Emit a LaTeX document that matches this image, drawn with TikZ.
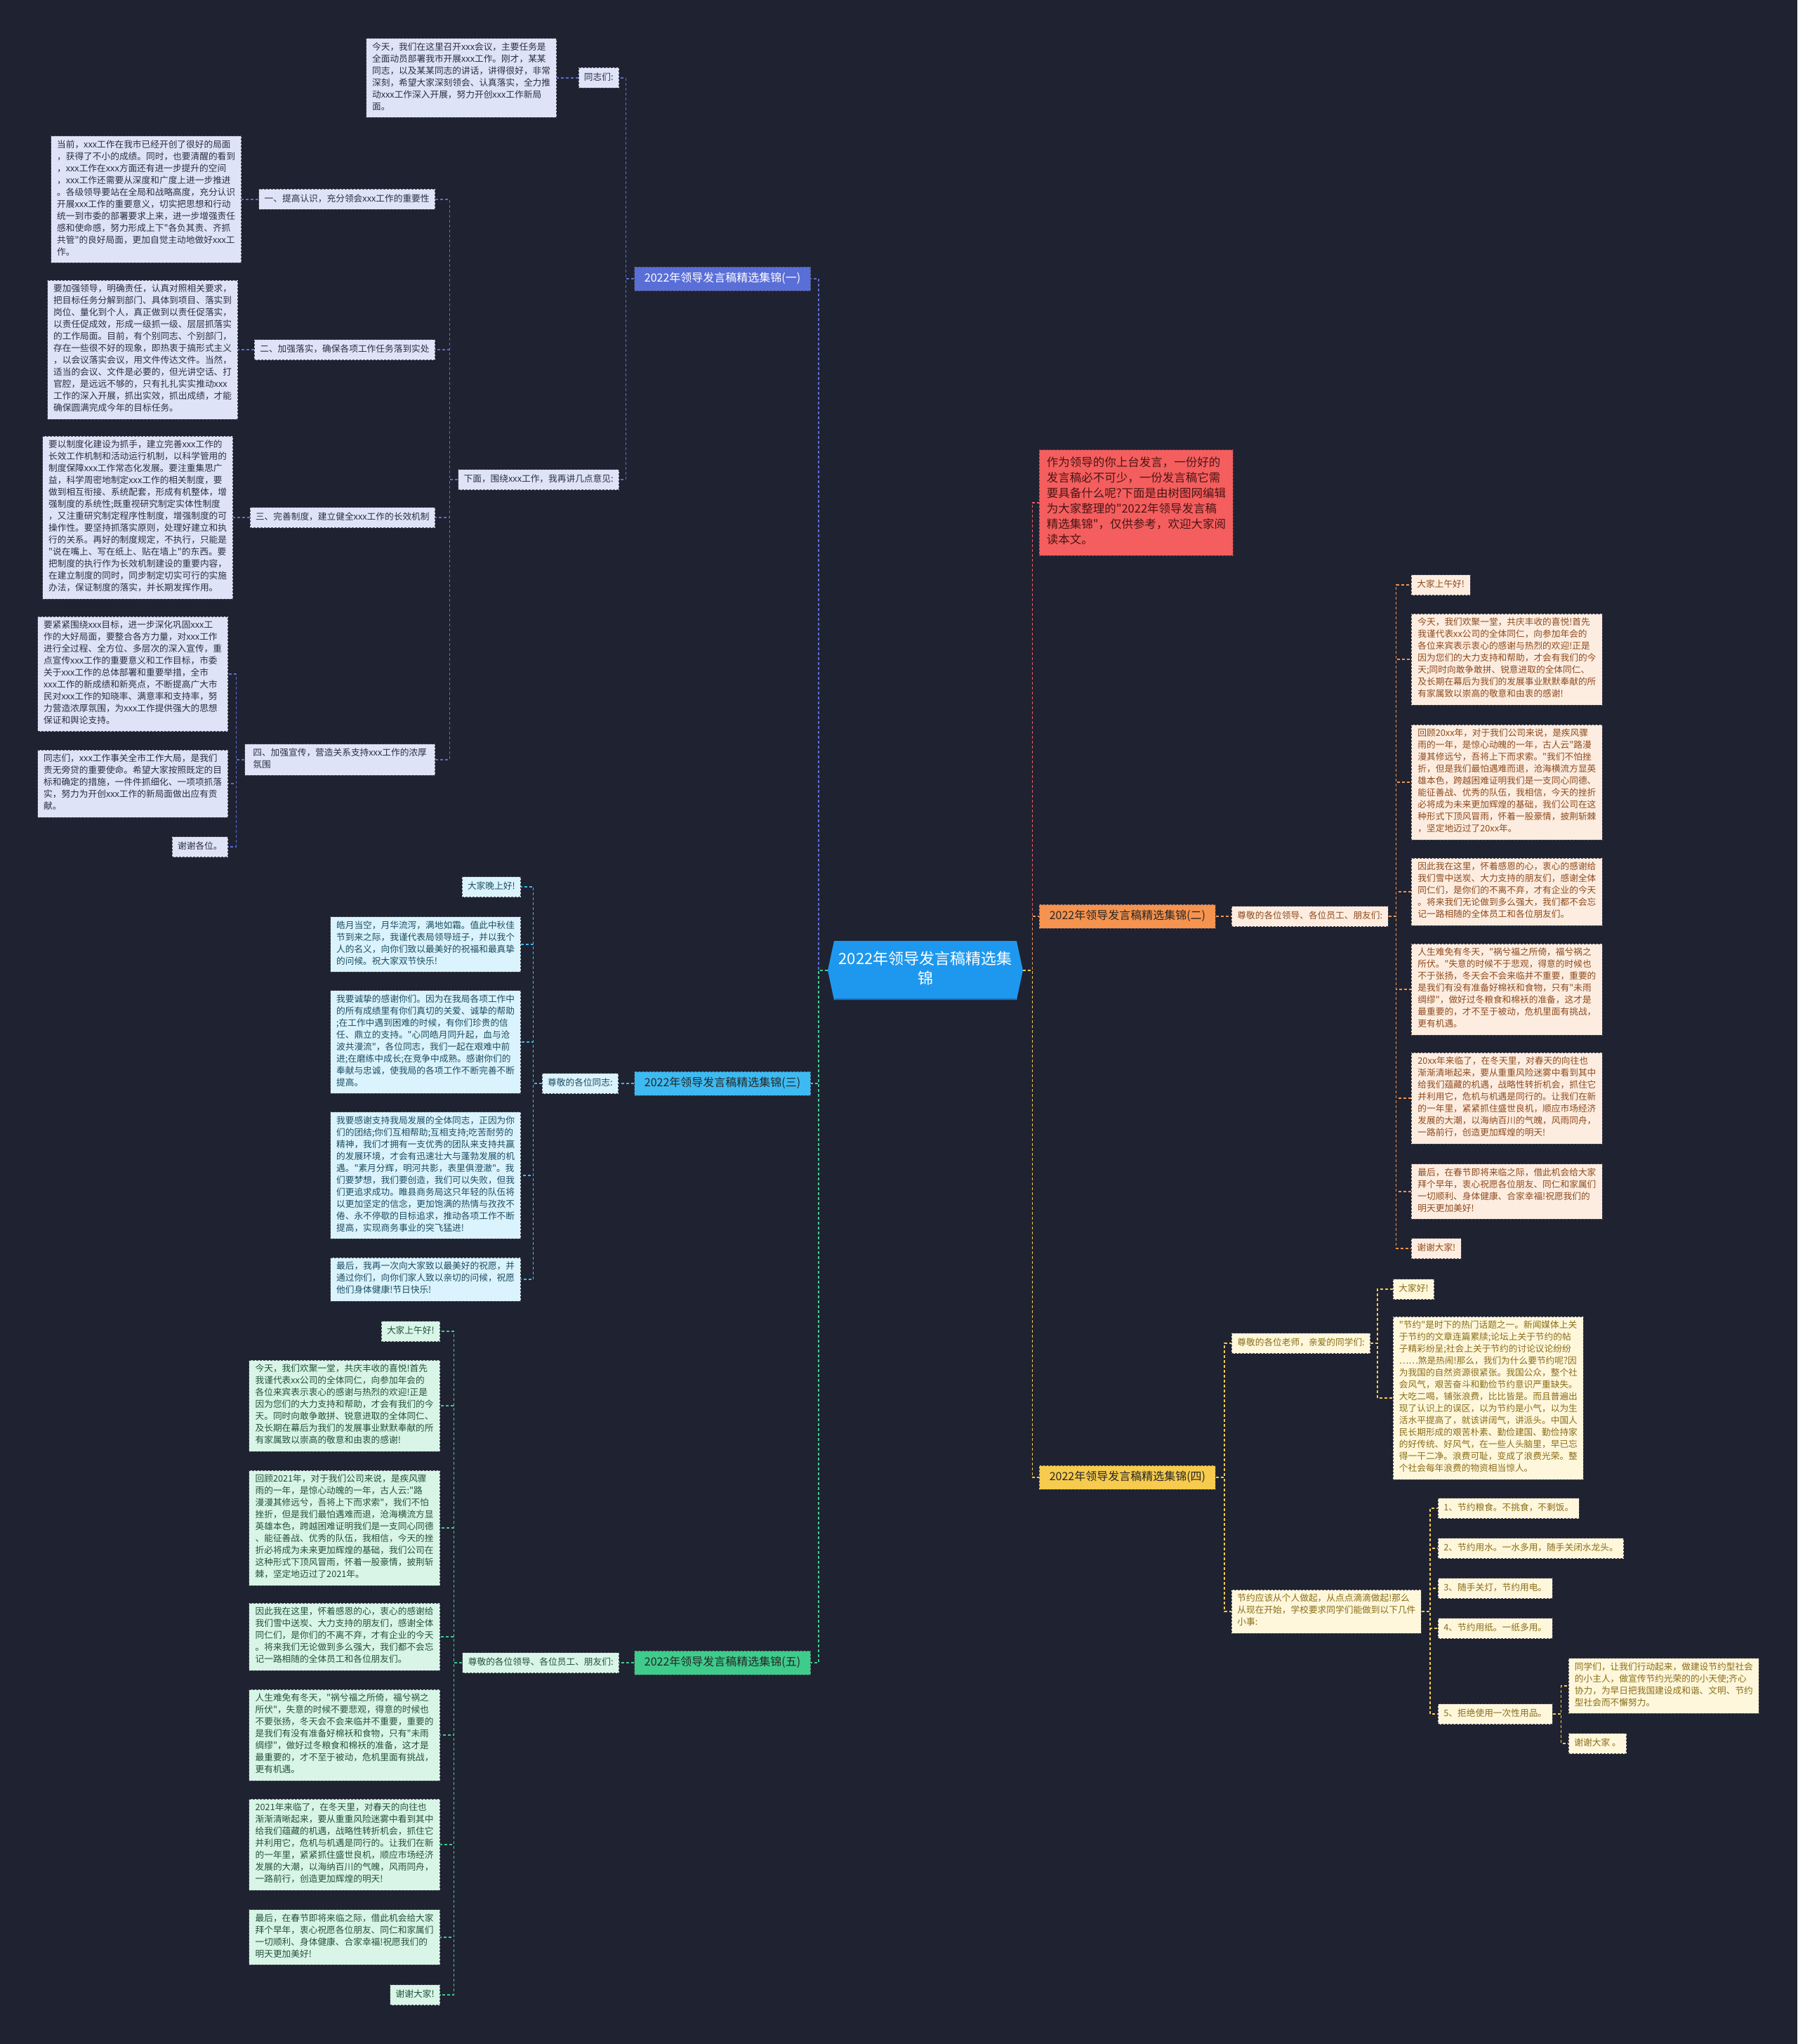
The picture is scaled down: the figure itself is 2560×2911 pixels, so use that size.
\documentclass[tikz,border=0pt]{standalone}
\usepackage{fontspec}
\newfontfamily\cjk{Noto Sans CJK SC}
\definecolor{bgc}{HTML}{1F2230}
\definecolor{cmain}{HTML}{1E98EE}
\definecolor{cmaind}{HTML}{1570B8}
\definecolor{ca}{HTML}{5A6ED8}
\definecolor{cafill}{HTML}{DEE3F7}
\definecolor{catext}{HTML}{2A2F45}
\definecolor{cb}{HTML}{F5934F}
\definecolor{cbfill}{HTML}{FDEDE0}
\definecolor{cbtext}{HTML}{8E4A1E}
\definecolor{cc}{HTML}{3DBAF2}
\definecolor{ccfill}{HTML}{DAF3FC}
\definecolor{cctext}{HTML}{1D4D63}
\definecolor{cd}{HTML}{F7CB4D}
\definecolor{cdfill}{HTML}{FEF7DC}
\definecolor{cdtext}{HTML}{8A6D17}
\definecolor{ce}{HTML}{3FCB8B}
\definecolor{cefill}{HTML}{D8F5E7}
\definecolor{cetext}{HTML}{24513B}
\definecolor{cr}{HTML}{F55E5E}
\definecolor{crtext}{HTML}{4A1515}
\definecolor{bord}{HTML}{4A4A58}
\definecolor{ttltext}{HTML}{262626}
\begin{document}
\begin{tikzpicture}[x=1pt,y=-1pt,
  nbox/.style={draw=bord, dash pattern=on 3pt off 2pt, line width=0.8pt, inner xsep=8pt, inner ysep=6pt, align=left, font=\cjk\fontsize{12.7}{17}\selectfont, execute at begin node=\strut, execute at end node=\strut},
  la/.style={nbox, fill=cafill, text=catext},
  wa/.style={la, minimum width=271pt},
  lb/.style={nbox, fill=cbfill, text=cbtext},
  wb/.style={lb, minimum width=272pt},
  lc/.style={nbox, fill=ccfill, text=cctext},
  wc/.style={lc, minimum width=271pt},
  ld/.style={nbox, fill=cdfill, text=cdtext},
  wd/.style={ld, minimum width=271pt},
  le/.style={nbox, fill=cefill, text=cetext},
  we/.style={le, minimum width=272pt},
  ttl/.style={draw=bord, dash pattern=on 3pt off 2pt, line width=0.8pt, inner xsep=10pt, inner ysep=7pt, minimum width=251pt, font=\cjk\fontsize{16}{20}\selectfont, text=ttltext, execute at begin node=\strut},
  con/.style={draw=#1, line width=1.4pt, dash pattern=on 4pt off 3pt}
]
\fill[bgc] (0,0) rectangle (2560,2911);
\useasboundingbox (0,0) rectangle (2560,2911);

% ---------- center ----------
\fill[cmain] (1179,1382) -- (1188,1340) -- (1448,1340) -- (1457,1382) -- (1448,1424) -- (1188,1424) -- cycle;
\draw[cmaind, line width=2pt] (1189,1423) -- (1447,1423);
\node[font=\cjk\fontsize{22}{28}\selectfont, text=white, align=center, minimum width=278pt, minimum height=84pt, inner sep=0pt, execute at begin node=\strut, execute at end node=\strut] (c) at (1318,1382) {2022年领导发言稿精选集\\锦};

% ---------- branch 1 ----------
\node[ttl, fill=ca, text=white, anchor=east] (b1) at (1155,397) {2022年领导发言稿精选集锦(一)};
\node[la, anchor=east] (a0) at (882,111) {同志们:};
\node[wa, anchor=east] (a0t) at (793,111) {今天，我们在这里召开xxx会议，主要任务是\\全面动员部署我市开展xxx工作。刚才，某某\\同志，以及某某同志的讲话，讲得很好，非常\\深刻，希望大家深刻领会、认真落实，全力推\\动xxx工作深入开展，努力开创xxx工作新局\\面。};
\node[la, anchor=east] (a1) at (882,683) {下面，围绕xxx工作，我再讲几点意见:};
\node[la, anchor=east] (h1) at (620,284) {一、提高认识，充分领会xxx工作的重要性};
\node[wa, anchor=east] (h1t) at (344,284) {当前，xxx工作在我市已经开创了很好的局面\\，获得了不小的成绩。同时，也要清醒的看到\\，xxx工作在xxx方面还有进一步提升的空间\\，xxx工作还需要从深度和广度上进一步推进\\。各级领导要站在全局和战略高度，充分认识\\开展xxx工作的重要意义，切实把思想和行动\\统一到市委的部署要求上来，进一步增强责任\\感和使命感，努力形成上下"各负其责、齐抓\\共管"的良好局面，更加自觉主动地做好xxx工\\作。};
\node[la, anchor=east] (h2) at (620,498) {二、加强落实，确保各项工作任务落到实处};
\node[wa, anchor=east] (h2t) at (339,498) {要加强领导，明确责任，认真对照相关要求，\\把目标任务分解到部门、具体到项目、落实到\\岗位、量化到个人，真正做到以责任促落实，\\以责任促成效，形成一级抓一级、层层抓落实\\的工作局面。目前，有个别同志、个别部门，\\存在一些很不好的现象，即热衷于搞形式主义\\，以会议落实会议，用文件传达文件。当然，\\适当的会议、文件是必要的，但光讲空话、打\\官腔，是远远不够的，只有扎扎实实推动xxx\\工作的深入开展，抓出实效，抓出成绩，才能\\确保圆满完成今年的目标任务。};
\node[la, anchor=east] (h3) at (620,737) {三、完善制度，建立健全xxx工作的长效机制};
\node[wa, anchor=east] (h3t) at (332,737) {要以制度化建设为抓手，建立完善xxx工作的\\长效工作机制和活动运行机制，以科学管用的\\制度保障xxx工作常态化发展。要注重集思广\\益，科学周密地制定xxx工作的相关制度，要\\做到相互衔接、系统配套，形成有机整体，增\\强制度的系统性;既重视研究制定实体性制度\\，又注重研究制定程序性制度，增强制度的可\\操作性。要坚持抓落实原则，处理好建立和执\\行的关系。再好的制度规定，不执行，只能是\\"说在嘴上、写在纸上、贴在墙上"的东西。要\\把制度的执行作为长效机制建设的重要内容，\\在建立制度的同时，同步制定切实可行的实施\\办法，保证制度的落实，并长期发挥作用。};
\node[wa, anchor=east] (h4) at (620,1082) {四、加强宣传，营造关系支持xxx工作的浓厚\\氛围};
\node[wa, anchor=east] (h4a) at (325,960) {要紧紧围绕xxx目标，进一步深化巩固xxx工\\作的大好局面，要整合各方力量，对xxx工作\\进行全过程、全方位、多层次的深入宣传，重\\点宣传xxx工作的重要意义和工作目标，市委\\关于xxx工作的总体部署和重要举措，全市\\xxx工作的新成绩和新亮点，不断提高广大市\\民对xxx工作的知晓率、满意率和支持率，努\\力营造浓厚氛围，为xxx工作提供强大的思想\\保证和舆论支持。};
\node[wa, anchor=east] (h4b) at (325,1116) {同志们，xxx工作事关全市工作大局，是我们\\责无旁贷的重要使命。希望大家按照既定的目\\标和确定的措施，一件件抓细化、一项项抓落\\实，努力为开创xxx工作的新局面做出应有贡\\献。};
\node[la, anchor=east] (h4c) at (325,1206) {谢谢各位。};

% ---------- branch 3 ----------
\node[ttl, fill=cc, anchor=east] (b3) at (1155,1543) {2022年领导发言稿精选集锦(三)};
\node[lc, anchor=east] (c0) at (881,1543) {尊敬的各位同志:};
\node[lc, anchor=east] (c1) at (742,1263) {大家晚上好!};
\node[wc, anchor=east] (c2) at (742,1345) {皓月当空，月华流泻，满地如霜。值此中秋佳\\节到来之际，我谨代表局领导班子，并以我个\\人的名义，向你们致以最美好的祝福和最真挚\\的问候。祝大家双节快乐!};
\node[wc, anchor=east] (c3) at (742,1484) {我要诚挚的感谢你们。因为在我局各项工作中\\的所有成绩里有你们真切的关爱、诚挚的帮助\\;在工作中遇到困难的时候，有你们珍贵的信\\任、鼎立的支持。"心同皓月同升起，血与沧\\波共漫流"，各位同志，我们一起在艰难中前\\进;在磨练中成长;在竞争中成熟。感谢你们的\\奉献与忠诚，使我局的各项工作不断完善不断\\提高。};
\node[wc, anchor=east] (c4) at (742,1674) {我要感谢支持我局发展的全体同志，正因为你\\们的团结;你们互相帮助;互相支持;吃苦耐劳的\\精神，我们才拥有一支优秀的团队来支持共赢\\的发展环境，才会有迅速壮大与蓬勃发展的机\\遇。"素月分辉，明河共影，表里俱澄澈"。我\\们要梦想，我们要创造，我们可以失败，但我\\们更追求成功。睢县商务局这只年轻的队伍将\\以更加坚定的信念，更加饱满的热情与孜孜不\\倦、永不停歇的目标追求，推动各项工作不断\\提高，实现商务事业的突飞猛进!};
\node[wc, anchor=east] (c5) at (742,1822) {最后，我再一次向大家致以最美好的祝愿，并\\通过你们，向你们家人致以亲切的问候，祝愿\\他们身体健康!节日快乐!};

% ---------- branch 5 ----------
\node[ttl, fill=ce, anchor=east] (b5) at (1155,2368) {2022年领导发言稿精选集锦(五)};
\node[le, anchor=east] (e0) at (882,2368) {尊敬的各位领导、各位员工、朋友们:};
\node[le, anchor=east] (e1) at (627,1896) {大家上午好!};
\node[we, anchor=east] (e2) at (627,2002) {今天，我们欢聚一堂，共庆丰收的喜悦!首先\\我谨代表xx公司的全体同仁，向参加年会的\\各位来宾表示衷心的感谢与热烈的欢迎!正是\\因为您们的大力支持和帮助，才会有我们的今\\天。同时向敢争敢拼、锐意进取的全体同仁、\\及长期在幕后为我们的发展事业默默奉献的所\\有家属致以崇高的敬意和由衷的感谢!};
\node[we, anchor=east] (e3) at (627,2176) {回顾2021年，对于我们公司来说，是疾风骤\\雨的一年，是惊心动魄的一年，古人云:"路\\漫漫其修远兮，吾将上下而求索"，我们不怕\\挫折，但是我们最怕遇难而退，沧海横流方显\\英雄本色，跨越困难证明我们是一支同心同德\\、能征善战、优秀的队伍，我相信，今天的挫\\折必将成为未来更加辉煌的基础，我们公司在\\这种形式下顶风冒雨，怀着一股豪情，披荆斩\\棘，坚定地迈过了2021年。};
\node[we, anchor=east] (e4) at (627,2331) {因此我在这里，怀着感恩的心，衷心的感谢给\\我们雪中送炭、大力支持的朋友们，感谢全体\\同仁们，是你们的不离不弃，才有企业的今天\\。将来我们无论做到多么强大，我们都不会忘\\记一路相随的全体员工和各位朋友们。};
\node[we, anchor=east] (e5) at (627,2471) {人生难免有冬天，"祸兮福之所倚，福兮祸之\\所伏"，失意的时候不要悲观，得意的时候也\\不要张扬，冬天会不会来临并不重要，重要的\\是我们有没有准备好棉袄和食物，只有"未雨\\绸缪"，做好过冬粮食和棉袄的准备，这才是\\最重要的，才不至于被动，危机里面有挑战，\\更有机遇。};
\node[we, anchor=east] (e6) at (627,2627) {2021年来临了，在冬天里，对春天的向往也\\渐渐清晰起来，要从重重风险迷雾中看到其中\\给我们蕴藏的机遇，战略性转折机会，抓住它\\并利用它，危机与机遇是同行的。让我们在新\\的一年里，紧紧抓住盛世良机，顺应市场经济\\发展的大潮，以海纳百川的气魄，风雨同舟，\\一路前行，创造更加辉煌的明天!};
\node[we, anchor=east] (e7) at (627,2759) {最后，在春节即将来临之际，借此机会给大家\\拜个早年，衷心祝愿各位朋友、同仁和家属们\\一切顺利、身体健康、合家幸福!祝愿我们的\\明天更加美好!};
\node[le, anchor=east] (e8) at (627,2841) {谢谢大家!};

% ---------- intro ----------
\node[nbox, fill=cr, text=crtext, anchor=west, font=\cjk\fontsize{16.5}{22}\selectfont, inner ysep=10pt, minimum width=276pt] (ir) at (1480,716) {作为领导的你上台发言，一份好的\\发言稿必不可少，一份发言稿它需\\要具备什么呢?下面是由树图网编辑\\为大家整理的"2022年领导发言稿\\精选集锦"，仅供参考，欢迎大家阅\\读本文。};

% ---------- branch 2 ----------
\node[ttl, fill=cb, anchor=west] (b2) at (1480,1305) {2022年领导发言稿精选集锦(二)};
\node[lb, anchor=west] (o0) at (1754,1305) {尊敬的各位领导、各位员工、朋友们:};
\node[lb, anchor=west] (o1) at (2010,833) {大家上午好!};
\node[wb, anchor=west] (o2) at (2010,939) {今天，我们欢聚一堂，共庆丰收的喜悦!首先\\我谨代表xx公司的全体同仁，向参加年会的\\各位来宾表示衷心的感谢与热烈的欢迎!正是\\因为您们的大力支持和帮助，才会有我们的今\\天;同时向敢争敢拼、锐意进取的全体同仁、\\及长期在幕后为我们的发展事业默默奉献的所\\有家属致以崇高的敬意和由衷的感谢!};
\node[wb, anchor=west] (o3) at (2010,1114) {回顾20xx年，对于我们公司来说，是疾风骤\\雨的一年，是惊心动魄的一年，古人云"路漫\\漫其修远兮，吾将上下而求索。"我们不怕挫\\折，但是我们最怕遇难而退，沧海横流方显英\\雄本色，跨越困难证明我们是一支同心同德、\\能征善战、优秀的队伍，我相信，今天的挫折\\必将成为未来更加辉煌的基础，我们公司在这\\种形式下顶风冒雨，怀着一股豪情，披荆斩棘\\，坚定地迈过了20xx年。};
\node[wb, anchor=west] (o4) at (2010,1270) {因此我在这里，怀着感恩的心，衷心的感谢给\\我们雪中送炭、大力支持的朋友们，感谢全体\\同仁们，是你们的不离不弃，才有企业的今天\\。将来我们无论做到多么强大，我们都不会忘\\记一路相随的全体员工和各位朋友们。};
\node[wb, anchor=west] (o5) at (2010,1409) {人生难免有冬天，"祸兮福之所倚，福兮祸之\\所伏。"失意的时候不于悲观，得意的时候也\\不于张扬，冬天会不会来临并不重要，重要的\\是我们有没有准备好棉袄和食物，只有"未雨\\绸缪"，做好过冬粮食和棉袄的准备，这才是\\最重要的，才不至于被动，危机里面有挑战，\\更有机遇。};
\node[wb, anchor=west] (o6) at (2010,1564) {20xx年来临了，在冬天里，对春天的向往也\\渐渐清晰起来，要从重重风险迷雾中看到其中\\给我们蕴藏的机遇，战略性转折机会，抓住它\\并利用它，危机与机遇是同行的。让我们在新\\的一年里，紧紧抓住盛世良机，顺应市场经济\\发展的大潮，以海纳百川的气魄，风雨同舟，\\一路前行，创造更加辉煌的明天!};
\node[wb, anchor=west] (o7) at (2010,1697) {最后，在春节即将来临之际，借此机会给大家\\拜个早年，衷心祝愿各位朋友、同仁和家属们\\一切顺利、身体健康、合家幸福!祝愿我们的\\明天更加美好!};
\node[lb, anchor=west] (o8) at (2010,1778) {谢谢大家!};

% ---------- branch 4 ----------
\node[ttl, fill=cd, anchor=west] (b4) at (1480,2104) {2022年领导发言稿精选集锦(四)};
\node[ld, anchor=west] (y0) at (1754,1913) {尊敬的各位老师，亲爱的同学们:};
\node[ld, anchor=west] (y1) at (1984,1836) {大家好!};
\node[wd, anchor=west] (y2) at (1984,1991) {"节约"是时下的热门话题之一。新闻媒体上关\\于节约的文章连篇累牍;论坛上关于节约的帖\\子精彩纷呈;社会上关于节约的讨论议论纷纷\\……煞是热闹!那么，我们为什么要节约呢?因\\为我国的自然资源很紧张。我国公众，整个社\\会风气，艰苦奋斗和勤俭节约意识严重缺失。\\大吃二喝，铺张浪费，比比皆是。而且普遍出\\现了认识上的误区，以为节约是小气，以为生\\活水平提高了，就该讲阔气，讲派头。中国人\\民长期形成的艰苦朴素、勤俭建国、勤俭持家\\的好传统、好风气，在一些人头脑里，早已忘\\得一干二净。浪费可耻，变成了浪费光荣。整\\个社会每年浪费的物资相当惊人。};
\node[wd, anchor=west, minimum width=270pt] (y3) at (1754,2295) {节约应该从个人做起，从点点滴滴做起!那么\\从现在开始，学校要求同学们能做到以下几件\\小事:};
\node[ld, anchor=west] (y4) at (2048,2148) {1、节约粮食。不挑食，不剩饭。};
\node[ld, anchor=west] (y5) at (2048,2205) {2、节约用水。一水多用，随手关闭水龙头。};
\node[ld, anchor=west] (y6) at (2048,2262) {3、随手关灯，节约用电。};
\node[ld, anchor=west] (y7) at (2048,2319) {4、节约用纸。一纸多用。};
\node[ld, anchor=west] (y8) at (2048,2441) {5、拒绝使用一次性用品。};
\node[wd, anchor=west] (y9) at (2234,2401) {同学们，让我们行动起来，做建设节约型社会\\的小主人，做宣传节约光荣的的小天使;齐心\\协力，为早日把我国建设成和谐、文明、节约\\型社会而不懈努力。};
\node[ld, anchor=west] (y10) at (2234,2483) {谢谢大家 。};

% ---------- connectors: center ----------
\draw[con=ca] (c.west) -- ++(-13,0) |- (b1.east);
\draw[con=cc] (c.west) -- ++(-13,0) |- (b3.east);
\draw[con=ce] (c.west) -- ++(-13,0) |- (b5.east);
\draw[con=cr] (c.east) -- ++(13,0) |- (ir.west);
\draw[con=cb] (c.east) -- ++(13,0) |- (b2.west);
\draw[con=cd] (c.east) -- ++(13,0) |- (b4.west);

% branch 1
\draw[con=ca] (b1.west) -- ++(-12,0) |- (a0.east);
\draw[con=ca] (b1.west) -- ++(-12,0) |- (a1.east);
\draw[con=ca] (a0.west) -- (a0t.east);
\foreach \h in {h1,h2,h3,h4} \draw[con=ca] (a1.west) -- ++(-12,0) |- (\h.east);
\draw[con=ca] (h1.west) -- (h1t.east);
\draw[con=ca] (h2.west) -- (h2t.east);
\draw[con=ca] (h3.west) -- (h3t.east);
\foreach \h in {h4a,h4b,h4c} \draw[con=ca] (h4.west) -- ++(-12,0) |- (\h.east);

% branch 3
\draw[con=cc] (b3.west) -- (c0.east);
\foreach \h in {c1,c2,c3,c4,c5} \draw[con=cc] (c0.west) -- ++(-12,0) |- (\h.east);

% branch 5
\draw[con=ce] (b5.west) -- (e0.east);
\foreach \h in {e1,e2,e3,e4,e5,e6,e7,e8} \draw[con=ce] (e0.west) -- ++(-12,0) |- (\h.east);

% branch 2
\draw[con=cb] (b2.east) -- (o0.west);
\foreach \h in {o1,o2,o3,o4,o5,o6,o7,o8} \draw[con=cb] (o0.east) -- ++(11,0) |- (\h.west);

% branch 4
\draw[con=cd] (b4.east) -- ++(12,0) |- (y0.west);
\draw[con=cd] (b4.east) -- ++(12,0) |- (y3.west);
\draw[con=cd] (y0.east) -- ++(10,0) |- (y1.west);
\draw[con=cd] (y0.east) -- ++(10,0) |- (y2.west);
\foreach \h in {y4,y5,y6,y7,y8} \draw[con=cd] (y3.east) -- ++(12,0) |- (\h.west);
\draw[con=cd] (y8.east) -- ++(12,0) |- (y9.west);
\draw[con=cd] (y8.east) -- ++(12,0) |- (y10.west);
\end{tikzpicture}
\end{document}
